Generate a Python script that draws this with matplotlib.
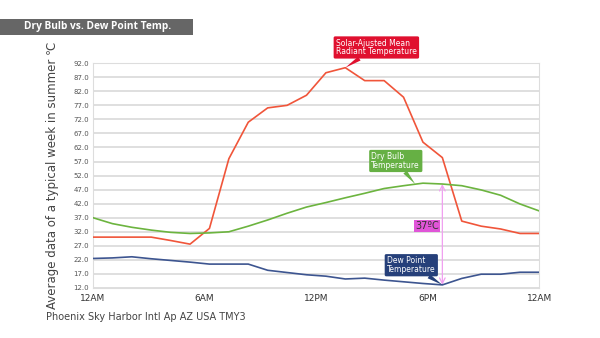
import matplotlib
matplotlib.use('Agg')  # Non-GUI backend
import matplotlib.pyplot as plt

plt.rcParams['font.family'] = ['DejaVu Sans']

# Hourly values (24 points, 12AM .. 11PM)
hours = list(range(24))
mrt = [30.1, 30.1, 30.1, 30.1, 28.9, 27.6, 33.2, 58.0, 71.0, 76.1, 77.0, 80.6,
       88.6, 90.4, 85.8, 85.8, 79.9, 63.9, 58.4, 35.8, 34.0, 33.0, 31.4, 31.4]
dry_bulb = [37.0, 34.9, 33.6, 32.6, 31.8, 31.4, 31.6, 32.0, 34.0, 36.2, 38.6, 40.8,
            42.4, 44.1, 45.7, 47.4, 48.4, 49.3, 49.0, 48.4, 46.9, 45.0, 41.9, 39.4]
dew_point = [22.5, 22.7, 23.1, 22.4, 21.8, 21.2, 20.5, 20.5, 20.5, 18.3, 17.5, 16.7,
             16.2, 15.2, 15.5, 14.8, 14.2, 13.6, 13.1, 15.4, 16.9, 16.9, 17.6, 17.6]

y_ticks = [12 + 5 * k for k in range(17)]
x_labels = ['12AM', '6AM', '12PM', '6PM', '12AM']

RED = '#f0553a'
GREEN = '#6cb43f'
BLUE = '#3d5590'

fig = plt.figure(figsize=(6, 3.38), dpi=100)
ax = fig.add_axes([0.155, 0.148, 0.744, 0.665])

ax.plot(hours, mrt, color=RED, lw=1.2, zorder=3)
ax.plot(hours, dry_bulb, color=GREEN, lw=1.2, zorder=3)
ax.plot(hours, dew_point, color=BLUE, lw=1.2, zorder=3)

ax.set_xlim(0, 23)
ax.set_ylim(12, 92)
ax.set_yticks(y_ticks)
ax.set_yticklabels([f'{v:.1f}' for v in y_ticks], fontsize=5, color='#555555')
ax.set_xticks([23 * k / 4 for k in range(5)])
ax.set_xticklabels(x_labels, fontsize=6.5, color='#333333')
ax.tick_params(length=0, pad=3)
ax.tick_params(axis='x', pad=4)
ax.grid(True, axis='y', color='#dcdcdc', lw=1.3)
for s in ax.spines.values():
    s.set_color('#dddddd')
    s.set_linewidth(0.8)

ax.set_ylabel('Average data of a typical week in summer ℃', fontsize=8.5, color='#444444', labelpad=10)

# difference arrow at 6PM
i_max = 18
ax.annotate('', xy=(i_max, dry_bulb[i_max]), xytext=(i_max, dew_point[i_max]),
            arrowprops=dict(arrowstyle='<->', color='#f0a0f0', lw=0.9, shrinkA=0, shrinkB=0), zorder=2)
diff = round(dry_bulb[i_max] - dew_point[i_max] + 1)
ax.text(i_max - 0.78, 34.0, f'{diff}ºC', fontsize=7, color='#333333', ha='center', va='center',
        bbox=dict(boxstyle='square,pad=0.12', fc='#e055d8', ec='none'), zorder=5)

# callouts
def callout(text, xy, xytext, color):
    ax.annotate(text, xy=xy, xytext=xytext, fontsize=5.5, color='white', ha='center', va='center',
                multialignment='left', linespacing=0.95, annotation_clip=False, zorder=6,
                bbox=dict(boxstyle='round,pad=0.3,rounding_size=0.2', fc=color, ec='none'),
                arrowprops=dict(arrowstyle='wedge,tail_width=0.6,shrink_factor=0.5', fc=color, ec='none',
                                shrinkA=0, shrinkB=0))

callout('Solar-Ajusted Mean\nRadiant Temperature', (13, mrt[13]), (14.6, 97.6), '#e0102f')
callout('Dry Bulb\nTemperature', (16.6, 49.0), (15.6, 57.2), '#66b044')
callout('Dew Point\nTemperature', (i_max, dew_point[i_max]), (16.4, 20.1), '#26407a')

# title bar
fig.patches.append(plt.Rectangle((0, 1 - 35 / 338), 193 / 600, 16 / 338, transform=fig.transFigure,
                                 fc='#666666', ec='none'))
fig.text(98 / 600, 1 - 27 / 338, 'Dry Bulb vs. Dew Point Temp.', fontsize=7.3, fontweight='bold',
         color='white', ha='center', va='center', family=['Open Sans', 'DejaVu Sans'])

fig.text(46 / 600, 1 - 317 / 338, 'Phoenix Sky Harbor Intl Ap AZ USA TMY3', fontsize=7,
         color='#444444', ha='left', va='center')

plt.savefig('out.png', dpi=100)
plt.close()
